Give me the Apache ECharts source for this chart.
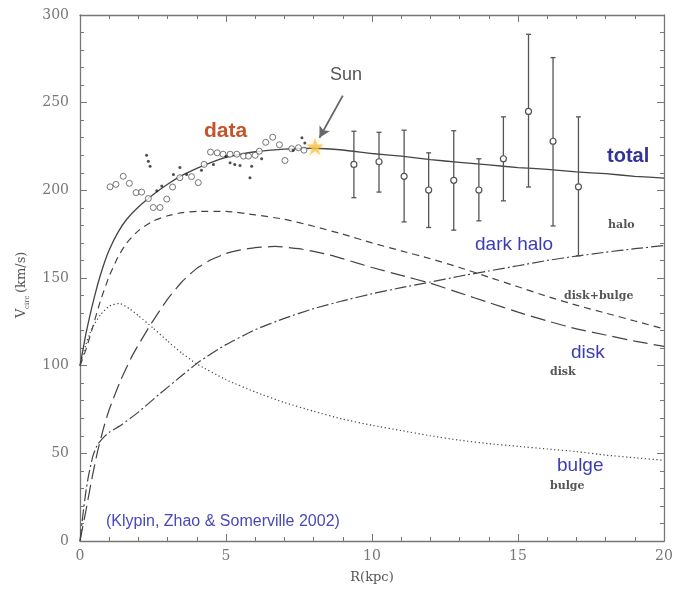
<!DOCTYPE html>
<html>
<head>
<meta charset="utf-8">
<script src="https://cdn.jsdelivr.net/npm/echarts@6/dist/echarts.min.js"></script>
<style>
html,body{margin:0;padding:0;background:#fff;}
#chart{width:677px;height:589px;}
</style>
</head>
<body>
<div id="chart"></div>
<script>
// ---- Model curves [R (kpc), V (km/s)] ----
const totalCurve = [[0,100],[0.2,118],[0.4,133],[0.6,146],[0.8,157],[1.0,166],[1.3,176],[1.6,183.5],[2,190.5],[2.5,197.5],[3,203.5],[3.5,208.5],[4,212.5],[4.5,216],[5,218.8],[5.5,220.7],[6,222],[7,223.5],[8,224],[9,223],[10,221],[11,219.5],[12,217.5],[13,216],[14,214.5],[15,213],[16,212],[17,210.5],[18,209.5],[19,208],[20,207]];
const diskBulgeCurve = [[0,100],[0.2,109],[0.4,120],[0.7,137],[1.0,151],[1.3,162],[1.6,170],[2,177],[2.5,182.5],[3,185.5],[3.5,187.3],[4,188],[5,188],[6,186],[7,183.5],[8,179.5],[9,175],[10,170],[11,165.5],[12,161],[13,156],[14,150.5],[15,145],[16,139.5],[17,134.5],[18,130],[19,125.5],[20,121]];
const diskCurve = [[0,0],[0.2,17],[0.4,35],[0.6,51],[0.8,64],[1.0,75],[1.4,92],[1.8,106],[2.4,123],[3,138],[3.5,148],[4,155.5],[4.5,160.5],[5,164],[5.5,166],[6,167.3],[6.7,168],[7.5,166.7],[8,165.2],[8.7,162.5],[9.5,158.5],[10,156],[11,151.5],[12,147],[13,141.5],[14,136],[15,130.5],[16,125.5],[17,121],[18,117.5],[19,114],[20,111]];
const haloCurve = [[0,0],[0.1,15],[0.2,28],[0.3,38],[0.45,49],[0.6,55],[0.8,59],[1,62],[1.4,66],[2,73.5],[2.7,83.5],[3.5,94.5],[4.1,102.5],[5,112],[6,120.5],[7,127],[8,132.5],[9,137],[10,141],[11,144.5],[12,147.7],[13,151],[14,154],[15,157],[16,160],[17,162.5],[18,164.7],[19,166.7],[20,168.5]];
const bulgeCurve = [[0,100],[0.2,112],[0.4,121],[0.7,129],[1.0,134],[1.35,135.5],[1.7,132.5],[2,128.5],[2.5,121.5],[3,114],[3.5,107],[4,101],[5,92],[6,85],[7,79],[8,74],[9,69.5],[10,66],[11,63],[12,60],[13,57.5],[14,55.5],[15,54],[16,52.5],[17,51],[18,49],[19,47.5],[20,46]];

// ---- Inner observed data ----
const openCircles = [[1.03,202],[1.23,203.4],[1.48,208],[1.69,204],[1.92,198.7],[2.11,199],[2.34,195.3],[2.51,190.2],[2.74,190.2],[2.97,195],[3.17,201.9],[3.42,207.2],[3.82,207.8],[4.05,204.4],[4.25,214.8],[4.47,221.8],[4.7,221.4],[4.9,220.6],[5.14,220.6],[5.37,220.6],[5.6,219.5],[5.77,219.5],[6.0,220],[6.14,222.3],[6.36,227.4],[6.6,230.3],[6.83,226],[7.02,217],[7.25,223.7],[7.48,224.3],[7.67,222.9]];
const filledDots = [[2.28,220],[2.34,216.6],[2.4,213.8],[2.63,199.7],[2.8,202.5],[3.2,209],[3.42,213],[3.65,209],[4.16,211.5],[4.57,214.8],[5.0,219.5],[5.14,215.7],[5.3,214.8],[5.48,214.2],[5.82,207.2],[5.88,213.8],[6.22,218],[7.3,222.9],[7.6,230],[7.7,227]];

// ---- Outer data with error bars ----
const errR  = [9.38,10.24,11.1,11.94,12.8,13.66,14.5,15.36,16.2,17.07];
const errV  = [214.8,216.3,208,200.2,205.7,200.2,218,245,228,202];
const errLo = [195.8,199,182,178.8,177.3,182.6,194,201.9,179.7,162.7];
const errHi = [233.7,233.1,234.3,221.4,234,218,241.9,289,275.7,241.9];

// ---- Sun ----
const sunPos = [[8.05,225]];
const sunArrow = [[9.0,254],[8.2,230]];

// ---- Axis ticks ----
const xTicks = {min:0, max:20, interval:5};
const yTicks = {min:0, max:300, interval:50};

const errData = errR.map((r,i)=>[r, errV[i], errLo[i], errHi[i]]);

const axisColor = '#777';
const lineColor = '#444';
const serif = 'DejaVu Serif';
const sans = 'Liberation Sans';

function mkAxis(pos, labels, ticks) {
  return {
    type: 'value', position: pos, min: ticks.min, max: ticks.max, interval: ticks.interval,
    axisLine: {show: true, onZero: false, lineStyle: {color: axisColor, width: 1.3}},
    axisTick: {show: true, inside: true, length: 7, lineStyle: {color: axisColor, width: 1}},
    minorTick: {show: true, splitNumber: 5, length: 4, lineStyle: {color: axisColor, width: 1}},
    axisLabel: {show: labels, color: '#777', fontFamily: serif, fontSize: 14, margin: 11},
    splitLine: {show: false}, minorSplitLine: {show: false}
  };
}

const xBottom = Object.assign(mkAxis('bottom', true, xTicks), {
  name: 'R(kpc)', nameLocation: 'middle', nameGap: 30,
  nameTextStyle: {color: '#555', fontFamily: serif, fontSize: 13}
});
xBottom.axisLabel.margin = 8;
const xTop = mkAxis('top', false, xTicks);
const yLeft = mkAxis('left', true, yTicks);
const yRight = mkAxis('right', false, yTicks);

function curve(data, dash, width) {
  return {
    type: 'line', data: data, xAxisIndex: 0, yAxisIndex: 0,
    showSymbol: false, smooth: 0.15,
    lineStyle: {color: lineColor, width: width || 1.2, type: dash},
    silent: true, z: 3
  };
}

const starPath = 'path://M50,0 L61,35 L98,35 L68,57 L79,91 L50,70 L21,91 L32,57 L2,35 L39,35 Z';

const option = {
  backgroundColor: '#fff',
  animation: false,
  grid: {left: 80, right: 13, top: 15, bottom: 46},
  xAxis: [xBottom, xTop],
  yAxis: [yLeft, yRight],
  series: [
    curve(totalCurve, 'solid', 1.3),
    curve(diskBulgeCurve, [7, 5]),
    curve(diskCurve, [15, 6]),
    curve(haloCurve, [12, 3, 2, 3]),
    curve(bulgeCurve, [1.2, 2.6]),
    {
      type: 'scatter', data: openCircles, symbol: 'circle', symbolSize: 6,
      itemStyle: {color: '#fff', borderColor: '#555', borderWidth: 1}, z: 4
    },
    {
      type: 'scatter', data: filledDots, symbol: 'circle', symbolSize: 3,
      itemStyle: {color: '#222'}, z: 5
    },
    {
      type: 'custom', data: errData, z: 4,
      renderItem: function (params, api) {
        const r = api.value(0);
        const pc = api.coord([r, api.value(1)]);
        const pl = api.coord([r, api.value(2)]);
        const ph = api.coord([r, api.value(3)]);
        const st = {stroke: '#555', lineWidth: 1.3};
        return {type: 'group', children: [
          {type: 'line', shape: {x1: pl[0], y1: pl[1], x2: ph[0], y2: ph[1]}, style: st},
          {type: 'line', shape: {x1: pl[0]-2.5, y1: pl[1], x2: pl[0]+2.5, y2: pl[1]}, style: st},
          {type: 'line', shape: {x1: ph[0]-2.5, y1: ph[1], x2: ph[0]+2.5, y2: ph[1]}, style: st},
          {type: 'circle', shape: {cx: pc[0], cy: pc[1], r: 3}, style: {fill: '#fff', stroke: '#555', lineWidth: 1.2}}
        ]};
      }
    },
    {
      type: 'scatter', data: sunPos, symbol: starPath, symbolSize: 17,
      itemStyle: {color: '#F8C24A', shadowColor: 'rgba(250,200,80,0.6)', shadowBlur: 6}, z: 6,
      markLine: {
        silent: true, symbol: ['none', 'arrow'], symbolSize: [9, 11],
        lineStyle: {color: '#666', width: 1.8, type: 'solid'},
        label: {show: false},
        data: [[{coord: sunArrow[0]}, {coord: sunArrow[1]}]]
      }
    }
  ],
  graphic: [
    {type: 'text', left: 330, top: 66, style: {text: 'Sun', fontFamily: sans, fontSize: 18, fill: '#555'}},
    {type: 'text', left: 204, top: 121, style: {text: 'data', fontFamily: sans, fontSize: 21, fontWeight: 'bold', fill: '#C4542C'}},
    {type: 'text', left: 607, top: 146, style: {text: 'total', fontFamily: sans, fontSize: 20, fontWeight: 'bold', fill: '#33339A'}},
    {type: 'text', left: 475, top: 235, style: {text: 'dark halo', fontFamily: sans, fontSize: 19, fill: '#3C3CB4'}},
    {type: 'text', left: 571, top: 343, style: {text: 'disk', fontFamily: sans, fontSize: 19, fill: '#3C3CB4'}},
    {type: 'text', left: 557, top: 456, style: {text: 'bulge', fontFamily: sans, fontSize: 19, fill: '#3C3CB4'}},
    {type: 'text', left: 106, top: 514, style: {text: '(Klypin, Zhao & Somerville 2002)', fontFamily: sans, fontSize: 16, fill: '#4848B8'}},
    {type: 'text', left: 608, top: 220, style: {text: 'halo', fontFamily: serif, fontSize: 11, fontWeight: 'bold', fill: '#555'}},
    {type: 'text', left: 564, top: 291, style: {text: 'disk+bulge', fontFamily: serif, fontSize: 11, fontWeight: 'bold', fill: '#555'}},
    {type: 'text', left: 550, top: 367, style: {text: 'disk', fontFamily: serif, fontSize: 11, fontWeight: 'bold', fill: '#555'}},
    {type: 'text', left: 550, top: 481, style: {text: 'bulge', fontFamily: serif, fontSize: 11, fontWeight: 'bold', fill: '#555'}},
    {
      type: 'group', x: 22, y: 318, rotation: Math.PI / 2,
      children: [
        {type: 'text', x: 0, y: 0, style: {text: 'V', fontFamily: serif, fontSize: 13, fill: '#555', textVerticalAlign: 'middle'}},
        {type: 'text', x: 9, y: 5, style: {text: 'circ', fontFamily: serif, fontSize: 7, fill: '#555', textVerticalAlign: 'middle'}},
        {type: 'text', x: 25, y: 0, style: {text: '(km/s)', fontFamily: serif, fontSize: 13, fill: '#555', textVerticalAlign: 'middle'}}
      ]
    }
  ]
};

const chart = echarts.init(document.getElementById('chart'), null, {renderer: 'canvas'});
chart.setOption(option);
</script>
</body>
</html>
